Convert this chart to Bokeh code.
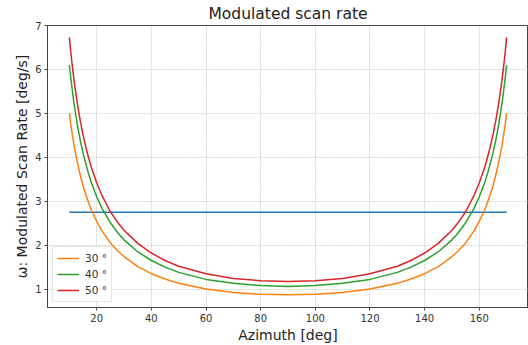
from bokeh.plotting import figure
from bokeh.models import Range1d, FixedTicker, Legend, LegendItem
from bokeh.embed import file_html
from bokeh.resources import INLINE

# Azimuth samples [deg]
azimuth = [10, 10.5, 11, 11.5, 12, 13, 14, 15, 16, 17, 18, 20, 22, 25, 28, 30, 35, 40, 45, 50, 60, 70, 80, 90,
           100, 110, 120, 130, 135, 140, 145, 150, 152, 155, 158, 160, 162, 163, 164, 165, 166, 167, 168, 168.5, 169, 169.5, 170]

half_30 = [5.00, 4.76, 4.55, 4.35, 4.17, 3.86, 3.59, 3.35, 3.15, 2.97, 2.81, 2.54, 2.32, 2.05, 1.85, 1.74, 1.51, 1.35, 1.23, 1.13, 1.00, 0.92, 0.88, 0.87]
half_40 = [6.10, 5.82, 5.56, 5.32, 5.10, 4.71, 4.38, 4.10, 3.85, 3.63, 3.43, 3.10, 2.83, 2.51, 2.26, 2.12, 1.85, 1.65, 1.50, 1.38, 1.22, 1.13, 1.08, 1.06]
half_50 = [6.73, 6.41, 6.12, 5.86, 5.62, 5.19, 4.83, 4.51, 4.24, 4.00, 3.78, 3.42, 3.12, 2.76, 2.49, 2.34, 2.04, 1.82, 1.65, 1.52, 1.35, 1.24, 1.19, 1.17]

rate_30 = half_30 + half_30[-2::-1]
rate_40 = half_40 + half_40[-2::-1]
rate_50 = half_50 + half_50[-2::-1]

const_az = [10, 170]
const_rate = [2.75, 2.75]

labels = ["30 °", "40 °", "50 °"]
x_ticks = [20, 40, 60, 80, 100, 120, 140, 160]
y_ticks = [1, 2, 3, 4, 5, 6, 7]

FONT = "DejaVu Sans"

p = figure(width=528, height=345, output_backend="svg", toolbar_location=None,
           title="Modulated scan rate",
           x_range=Range1d(2, 178), y_range=Range1d(0.58, 7.0),
           min_border_left=47, min_border_right=0, min_border_top=25, min_border_bottom=38)

p.title.align = "center"
p.title.vertical_align = "top"
p.title.text_font = FONT
p.title.text_font_size = "15.5px"
p.title.text_font_style = "normal"
p.title.text_color = "#222222"
p.title.text_line_height = 1.0
p.title.offset = 0
p.title.standoff = 2

p.line(const_az, const_rate, line_color="#1f77b4", line_width=1.6)
r30 = p.line(azimuth, rate_30, line_color="#ff7f0e", line_width=1.5)
r40 = p.line(azimuth, rate_40, line_color="#2ca02c", line_width=1.5)
r50 = p.line(azimuth, rate_50, line_color="#d62728", line_width=1.5)

p.xaxis.ticker = FixedTicker(ticks=x_ticks)
p.yaxis.ticker = FixedTicker(ticks=y_ticks)
p.xaxis.axis_label = "Azimuth [deg]"
p.yaxis.axis_label = "ω: Modulated Scan Rate [deg/s]"
for ax in (p.xaxis, p.yaxis):
    ax.axis_label_text_font = FONT
    ax.axis_label_text_font_size = "14px"
    ax.axis_label_text_font_style = "normal"
    ax.axis_label_text_color = "#222222"
    ax.axis_label_standoff = 2
    ax.major_label_text_font = FONT
    ax.major_label_text_font_size = "10px"
    ax.major_label_text_color = "#333333"
    ax.major_label_standoff = 3
    ax.axis_line_color = "#444444"
    ax.major_tick_line_color = "#444444"
    ax.major_tick_in = 0
    ax.major_tick_out = 3
    ax.minor_tick_line_color = None

p.outline_line_color = "#444444"
p.outline_line_width = 1
p.xgrid.grid_line_color = "#cccccc"
p.ygrid.grid_line_color = "#cccccc"
p.xgrid.grid_line_dash = "2 1"
p.ygrid.grid_line_dash = "2 1"
p.xgrid.grid_line_width = 0.8
p.ygrid.grid_line_width = 0.8

legend = Legend(items=[LegendItem(label=labels[0], renderers=[r30]),
                       LegendItem(label=labels[1], renderers=[r40]),
                       LegendItem(label=labels[2], renderers=[r50])],
                location="bottom_left")
legend.label_text_font = FONT
legend.label_text_font_size = "10.5px"
legend.label_text_color = "#333333"
legend.border_line_color = "#cccccc"
legend.background_fill_alpha = 0.85
legend.glyph_width = 22
legend.glyph_height = 14
legend.spacing = 2
legend.padding = 4
legend.margin = 5
legend.label_standoff = 6
legend.label_height = 14
p.add_layout(legend)

open("out.html", "w").write(file_html(p, INLINE))
